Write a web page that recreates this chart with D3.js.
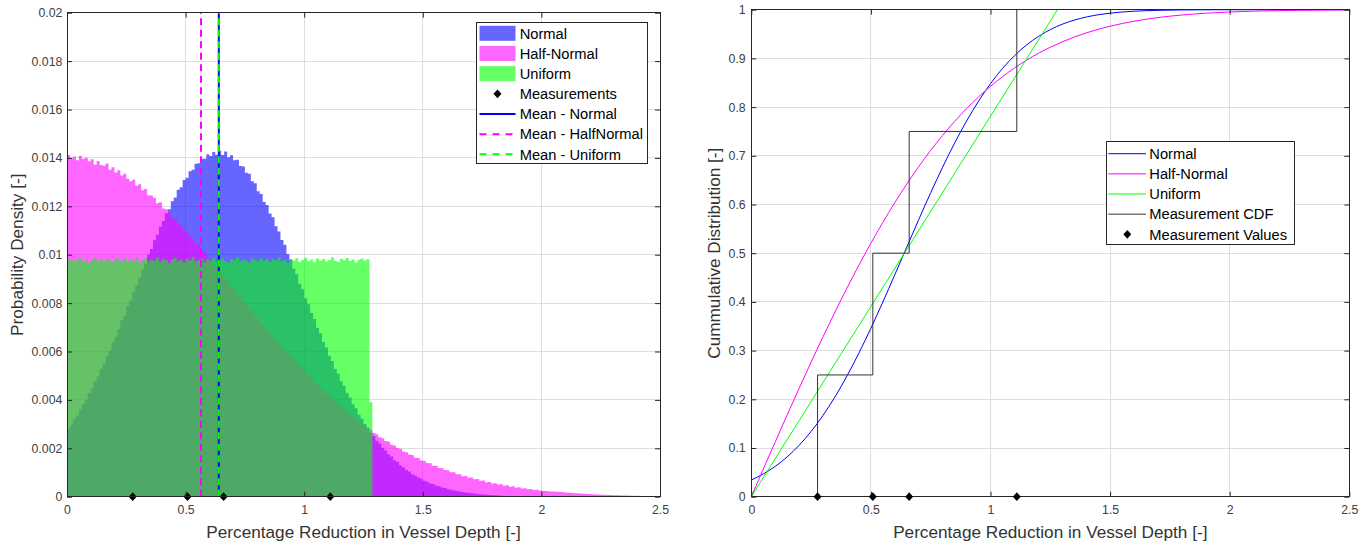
<!DOCTYPE html>
<html>
<head>
<meta charset="utf-8">
<script src="https://cdn.jsdelivr.net/npm/d3@7"></script>
<style>
  html, body { margin: 0; padding: 0; background: #fff; }
  svg { display: block; font-family: "Liberation Sans", Arial, Helvetica, sans-serif; }
</style>
</head>
<body>
<svg id="fig" width="1370" height="546"></svg>
<script>
// ---------------- data ----------------
// histogram bin width (bins start at 0)
const binWidth = 0.0125;

// probability per bin, Normal fit
const normalProb = [
  0.00281,0.00295,0.00320,0.00334,0.00360,0.00383,0.00399,0.00428,0.00447,0.00476,
  0.00497,0.00528,0.00550,0.00581,0.00603,0.00638,0.00661,0.00692,0.00728,0.00749,
  0.00787,0.00811,0.00848,0.00874,0.00905,0.00940,0.00964,0.01001,0.01024,0.01060,
  0.01082,0.01116,0.01139,0.01171,0.01188,0.01221,0.01236,0.01268,0.01279,0.01309,
  0.01318,0.01345,0.01351,0.01376,0.01378,0.01397,0.01396,0.01415,0.01408,0.01424,
  0.01413,0.01430,0.01412,0.01426,0.01403,0.01411,0.01390,0.01392,0.01367,0.01364,
  0.01339,0.01334,0.01303,0.01295,0.01262,0.01251,0.01218,0.01205,0.01170,0.01155,
  0.01118,0.01096,0.01061,0.01041,0.01003,0.00980,0.00942,0.00919,0.00880,0.00857,
  0.00820,0.00795,0.00759,0.00734,0.00698,0.00675,0.00639,0.00617,0.00582,0.00561,
  0.00528,0.00508,0.00477,0.00458,0.00428,0.00410,0.00382,0.00366,0.00339,0.00323,
  0.00300,0.00286,0.00264,0.00251,0.00231,0.00220,0.00202,0.00191,0.00175,0.00166,
  0.00151,0.00143,0.00129,0.00122,0.00110,0.00104,0.00093,0.00088,0.00079,0.00074,
  0.00066,0.00062,0.00055,0.00052,0.00046,0.00043,0.00038,0.00036,0.00031,0.00029,
  0.00026,0.00024,0.00021,0.00019,0.00017,0.00016,0.00014,0.00013,0.00011,0.00010,
  0.00009,0.00008,0.00007,0.00006,0.00006,0.00005,0.00004,0.00004,0.00003,0.00003,
  0.00002,0.00002,0.00002,0.00001,0.00001,0.00001
];

// probability per bin, Half-Normal fit
const halfNormalProb = [
  0.01412,0.01399,0.01406,0.01390,0.01409,0.01397,0.01401,0.01386,0.01394,0.01372,
  0.01387,0.01371,0.01368,0.01377,0.01351,0.01361,0.01340,0.01349,0.01327,0.01335,
  0.01314,0.01303,0.01310,0.01285,0.01291,0.01266,0.01272,0.01246,0.01245,0.01235,
  0.01213,0.01217,0.01191,0.01188,0.01175,0.01150,0.01150,0.01127,0.01122,0.01098,
  0.01095,0.01071,0.01067,0.01043,0.01039,0.01015,0.01010,0.00986,0.00981,0.00956,
  0.00951,0.00926,0.00922,0.00896,0.00891,0.00865,0.00862,0.00835,0.00830,0.00806,
  0.00800,0.00775,0.00770,0.00745,0.00740,0.00716,0.00709,0.00687,0.00680,0.00658,
  0.00651,0.00629,0.00624,0.00603,0.00595,0.00576,0.00569,0.00548,0.00542,0.00522,
  0.00517,0.00496,0.00491,0.00471,0.00467,0.00446,0.00442,0.00423,0.00419,0.00400,
  0.00396,0.00379,0.00374,0.00356,0.00353,0.00337,0.00333,0.00317,0.00313,0.00298,
  0.00295,0.00280,0.00277,0.00263,0.00258,0.00246,0.00242,0.00230,0.00227,0.00215,
  0.00212,0.00201,0.00198,0.00187,0.00184,0.00174,0.00172,0.00161,0.00160,0.00150,
  0.00148,0.00139,0.00138,0.00128,0.00128,0.00119,0.00118,0.00110,0.00109,0.00101,
  0.00101,0.00093,0.00093,0.00085,0.00086,0.00078,0.00079,0.00072,0.00073,0.00066,
  0.00067,0.00060,0.00061,0.00055,0.00056,0.00050,0.00051,0.00045,0.00047,0.00041,
  0.00043,0.00037,0.00039,0.00034,0.00035,0.00031,0.00032,0.00028,0.00029,0.00026,
  0.00025,0.00024,0.00023,0.00022,0.00021,0.00020,0.00019,0.00018,0.00017,0.00016,
  0.00015,0.00014,0.00014,0.00013,0.00012,0.00011,0.00011,0.00010,0.00009,0.00009,
  0.00008,0.00008,0.00007,0.00007,0.00006,0.00006,0.00006,0.00005,0.00005,0.00005,
  0.00004,0.00004,0.00004,0.00003,0.00003,0.00003,0.00003,0.00002,0.00002,0.00002
];

// probability per bin, Uniform fit
const uniformProb = [
  0.00975,0.00982,0.00969,0.00978,0.00986,0.00972,0.00980,0.00966,0.00977,0.00989,
  0.00974,0.00981,0.00970,0.00983,0.00976,0.00968,0.00985,0.00979,0.00973,0.00987,
  0.00971,0.00980,0.00976,0.00990,0.00967,0.00978,0.00984,0.00972,0.00979,0.00975,
  0.00988,0.00970,0.00982,0.00977,0.00965,0.00981,0.00986,0.00973,0.00979,0.00968,
  0.00984,0.00976,0.00991,0.00972,0.00978,0.00983,0.00969,0.00980,0.00975,0.00987,
  0.00971,0.00979,0.00985,0.00974,0.00966,0.00982,0.00977,0.00989,0.00973,0.00980,
  0.00976,0.00968,0.00984,0.00978,0.00972,0.00986,0.00975,0.00981,0.00970,0.00983,
  0.00977,0.00988,0.00974,0.00979,0.00967,0.00982,0.00976,0.00985,0.00971,0.00978,
  0.00987,0.00973,0.00980,0.00969,0.00984,0.00976,0.00982,0.00972,0.00978,0.00989,
  0.00975,0.00970,0.00983,0.00977,0.00986,0.00974,0.00980,0.00968,0.00979,0.00984,
  0.00976,0.00981,0.00390
];

// measured reductions and their empirical CDF levels
const measurements = [0.277, 0.508, 0.660, 1.110];
const measurementCdf = [0.25, 0.50, 0.75, 1.00];

// distribution means
const meanNormal = 0.640;
const meanHalfNormal = 0.565;
const meanUniform = 0.640;

// fitted CDF curves
const cdfX = [0,0.05,0.1,0.15,0.2,0.25,0.3,0.35,0.4,0.45,0.5,0.55,0.6,0.65,0.7,0.75,0.8,0.85,0.9,0.95,
  1.0,1.05,1.1,1.15,1.2,1.25,1.3,1.35,1.4,1.45,1.5,1.6,1.7,1.8,1.9,2.0,2.1,2.2,2.3,2.4,2.5];
const normalCdf = [0.0343,0.0467,0.0623,0.0818,0.1055,0.1339,0.1671,0.2051,0.2480,0.2951,
  0.3460,0.3999,0.4558,0.5125,0.5690,0.6241,0.6768,0.7261,0.7714,0.8122,
  0.8481,0.8792,0.9055,0.9273,0.9450,0.9591,0.9702,0.9786,0.9849,0.9896,
  0.9929,0.9969,0.9987,0.9995,0.9998,0.9999,1.0000,1.0000,1.0000,1.0000,1.0000];
const halfNormalCdf = [0,0.0564,0.1125,0.1680,0.2227,0.2763,0.3286,0.3794,0.4284,0.4755,
  0.5205,0.5633,0.6039,0.6420,0.6778,0.7112,0.7421,0.7707,0.7969,0.8209,
  0.8427,0.8624,0.8802,0.8961,0.9103,0.9229,0.9340,0.9438,0.9523,0.9597,
  0.9661,0.9763,0.9838,0.9891,0.9928,0.9953,0.9970,0.9981,0.9989,0.9993,0.9996];
const uniformCdfX = [0, 1.28];
const uniformCdf = [0, 1];

// axis ticks
const xTicks = [0, 0.5, 1, 1.5, 2, 2.5];
const densityTicks = [0,0.002,0.004,0.006,0.008,0.01,0.012,0.014,0.016,0.018,0.02];
const cdfTicks = [0,0.1,0.2,0.3,0.4,0.5,0.6,0.7,0.8,0.9,1];

// ---------------- drawing ----------------
const svg = d3.select("#fig");
const AXIS = "#262626", GRID = "#dedede", TICKTXT = "#404040";
const C_N = "#0000ff", C_H = "#ff00ff", C_U = "#00ff00";
const TICK_FS = "12.3px", LABEL_FS = "17.2px", LEG_FS = "14.7px";
const DASH = "7,4.5";

const diamondType = {
  draw(ctx, s) {
    const h = s, w = s * 0.9;
    ctx.moveTo(0, -h); ctx.lineTo(w, 0); ctx.lineTo(0, h); ctx.lineTo(-w, 0); ctx.closePath();
  }
};
const diamond = d3.symbol().type(diamondType).size(4.4);

function frame(g, x, y, yTicks, id) {
  const [x0, x1] = x.range(), [y0, y1] = y.range();
  // grid
  const grid = g.append("g").attr("shape-rendering", "crispEdges").attr("stroke", GRID).attr("stroke-width", 1);
  grid.selectAll("line.vx").data(xTicks).join("line")
    .attr("x1", d => x(d)).attr("x2", d => x(d)).attr("y1", y0).attr("y2", y1);
  grid.selectAll("line.hy").data(yTicks).join("line")
    .attr("y1", d => y(d)).attr("y2", d => y(d)).attr("x1", x0).attr("x2", x1);
  g.append("clipPath").attr("id", id).append("rect")
    .attr("x", x0).attr("y", y1).attr("width", x1 - x0).attr("height", y0 - y1);
}

function axes(g, x, y, yTicks, yPad) {
  const [x0, x1] = x.range(), [y0, y1] = y.range();
  const style = a => {
    a.select(".domain").remove();
    a.selectAll("line").attr("stroke", AXIS);
    a.selectAll("text").attr("fill", TICKTXT).style("font-size", TICK_FS)
      .style("font-family", '"Liberation Sans", Arial, sans-serif');
  };
  g.append("g").attr("transform", `translate(0,${y0})`)
    .call(d3.axisBottom(x).tickValues(xTicks).tickSizeInner(-5).tickSizeOuter(0).tickPadding(8.3).tickFormat(d => String(d)))
    .call(style);
  g.append("g").attr("transform", `translate(0,${y1})`)
    .call(d3.axisTop(x).tickValues(xTicks).tickSizeInner(-5).tickSizeOuter(0).tickFormat(""))
    .call(style);
  g.append("g").attr("transform", `translate(${x0},0)`)
    .call(d3.axisLeft(y).tickValues(yTicks).tickSizeInner(-5).tickSizeOuter(0).tickPadding(yPad).tickFormat(d => String(d)))
    .call(style);
  g.append("g").attr("transform", `translate(${x1},0)`)
    .call(d3.axisRight(y).tickValues(yTicks).tickSizeInner(-5).tickSizeOuter(0).tickFormat(""))
    .call(style);
  g.append("rect").attr("x", x0).attr("y", y1).attr("width", x1 - x0).attr("height", y0 - y1)
    .attr("fill", "none").attr("stroke", AXIS).attr("stroke-width", 1).attr("shape-rendering", "crispEdges");
}

function axisLabels(g, x, y, xText, yText, yLabelX) {
  const [x0, x1] = x.range(), [y0, y1] = y.range();
  g.append("text").attr("x", (x0 + x1) / 2).attr("y", 537.5).attr("text-anchor", "middle")
    .style("font-size", LABEL_FS).attr("fill", "#333").text(xText);
  g.append("text").attr("transform", `translate(${yLabelX},${(y0 + y1) / 2}) rotate(-90)`)
    .attr("text-anchor", "middle").style("font-size", LABEL_FS).attr("fill", "#333").text(yText);
}

// ---------- left: probability density histograms ----------
const lx = d3.scaleLinear().domain([0, 2.5]).range([67, 660]);
const ly = d3.scaleLinear().domain([0, 0.02]).range([496.7, 12.7]);
const left = svg.append("g");
frame(left, lx, ly, densityTicks, "clipL");

const stepPts = vals => vals.flatMap((v, i) => [[i * binWidth, v], [(i + 1) * binWidth, v]]);
const histArea = d3.area().x(d => lx(d[0])).y0(ly(0)).y1(d => ly(d[1]));
const plotL = left.append("g").attr("clip-path", "url(#clipL)");
[[normalProb, C_N], [halfNormalProb, C_H], [uniformProb, C_U]].forEach(([vals, c]) => {
  plotL.append("path").datum(stepPts(vals)).attr("d", histArea)
    .attr("fill", c).attr("fill-opacity", 0.6);
});

// measurement markers on the baseline
left.append("g").selectAll("path").data(measurements).join("path")
  .attr("d", diamond).attr("transform", d => `translate(${lx(d)},${ly(0)})`).attr("fill", "#000");

// mean lines
const meanLine = d3.line().x(d => lx(d[0])).y(d => ly(d[1]));
const means = [
  { v: meanNormal, c: C_N, dash: null },
  { v: meanHalfNormal, c: C_H, dash: DASH },
  { v: meanUniform, c: C_U, dash: DASH }
];
means.forEach(m => {
  plotL.append("path").datum([[m.v, 0], [m.v, 0.02]]).attr("d", meanLine)
    .attr("stroke", m.c).attr("stroke-width", 2).attr("fill", "none")
    .attr("stroke-dasharray", m.dash);
});
axes(left, lx, ly, densityTicks, 4.7);
axisLabels(left, lx, ly, "Percentage Reduction in Vessel Depth [-]", "Probability Density [-]", 22.5);

// left legend
const legL = left.append("g");
legL.append("rect").attr("x", 476).attr("y", 22).attr("width", 171).attr("height", 141)
  .attr("fill", "#fff").attr("stroke", AXIS).attr("stroke-width", 1).attr("shape-rendering", "crispEdges");
const legLItems = [
  { t: "Normal", kind: "patch", c: C_N },
  { t: "Half-Normal", kind: "patch", c: C_H },
  { t: "Uniform", kind: "patch", c: C_U },
  { t: "Measurements", kind: "marker" },
  { t: "Mean - Normal", kind: "line", c: C_N, dash: null },
  { t: "Mean - HalfNormal", kind: "line", c: C_H, dash: "7,6" },
  { t: "Mean - Uniform", kind: "line", c: C_U, dash: "7,6" }
];
legLItems.forEach((it, i) => {
  const cy = 33.3 + i * 20.17;
  if (it.kind === "patch") {
    legL.append("rect").attr("x", 479.5).attr("y", cy - 7.5).attr("width", 36).attr("height", 15)
      .attr("fill", it.c).attr("fill-opacity", 0.6);
  } else if (it.kind === "marker") {
    legL.append("path").attr("d", diamond).attr("transform", `translate(497.5,${cy})`).attr("fill", "#000");
  } else {
    legL.append("line").attr("x1", 479.5).attr("x2", 515.5).attr("y1", cy).attr("y2", cy)
      .attr("stroke", it.c).attr("stroke-width", 2).attr("stroke-dasharray", it.dash);
  }
  legL.append("text").attr("x", 519.7).attr("y", cy + 5.2).style("font-size", LEG_FS)
    .attr("fill", "#000").text(it.t);
});

// ---------- right: cumulative distributions ----------
const rx = d3.scaleLinear().domain([0, 2.5]).range([751.3, 1349.3]);
const ry = d3.scaleLinear().domain([0, 1]).range([496.7, 9.7]);
const right = svg.append("g");
frame(right, rx, ry, cdfTicks, "clipR");
const plotR = right.append("g").attr("clip-path", "url(#clipR)");

const cdfLine = d3.line().x(d => rx(d[0])).y(d => ry(d[1])).curve(d3.curveMonotoneX);
[[cdfX, normalCdf, C_N], [cdfX, halfNormalCdf, C_H], [uniformCdfX, uniformCdf, C_U]].forEach(([xs, ys, c]) => {
  plotR.append("path").datum(xs.map((v, i) => [v, ys[i]])).attr("d", cdfLine)
    .attr("fill", "none").attr("stroke", c).attr("stroke-width", 1);
});

// empirical CDF as stairs
const stairPts = [[measurements[0], 0]];
measurements.forEach((m, i) => {
  stairPts.push([m, measurementCdf[i]]);
  if (i < measurements.length - 1) stairPts.push([measurements[i + 1], measurementCdf[i]]);
});
plotR.append("path").datum(stairPts)
  .attr("d", d3.line().x(d => rx(d[0])).y(d => ry(d[1])))
  .attr("fill", "none").attr("stroke", "#333").attr("stroke-width", 1);

axes(right, rx, ry, cdfTicks, 5.6);
right.append("g").selectAll("path").data(measurements).join("path")
  .attr("d", diamond).attr("transform", d => `translate(${rx(d)},${ry(0)})`).attr("fill", "#000");
axisLabels(right, rx, ry, "Percentage Reduction in Vessel Depth [-]", "Cummulative Distribution [-]", 719.5);

// right legend
const legR = right.append("g");
legR.append("rect").attr("x", 1106).attr("y", 141).attr("width", 188).attr("height", 103)
  .attr("fill", "#fff").attr("stroke", AXIS).attr("stroke-width", 1).attr("shape-rendering", "crispEdges");
const legRItems = [
  { t: "Normal", c: C_N },
  { t: "Half-Normal", c: C_H },
  { t: "Uniform", c: C_U },
  { t: "Measurement CDF", c: "#333" },
  { t: "Measurement Values", marker: true }
];
legRItems.forEach((it, i) => {
  const cy = 153.7 + i * 20.15;
  if (it.marker) {
    legR.append("path").attr("d", diamond).attr("transform", `translate(1127.3,${cy})`).attr("fill", "#000");
  } else {
    legR.append("line").attr("x1", 1108.3).attr("x2", 1146).attr("y1", cy).attr("y2", cy)
      .attr("stroke", it.c).attr("stroke-width", 1);
  }
  legR.append("text").attr("x", 1149.3).attr("y", cy + 5.2).style("font-size", LEG_FS)
    .attr("fill", "#000").text(it.t);
});
</script>
</body>
</html>
